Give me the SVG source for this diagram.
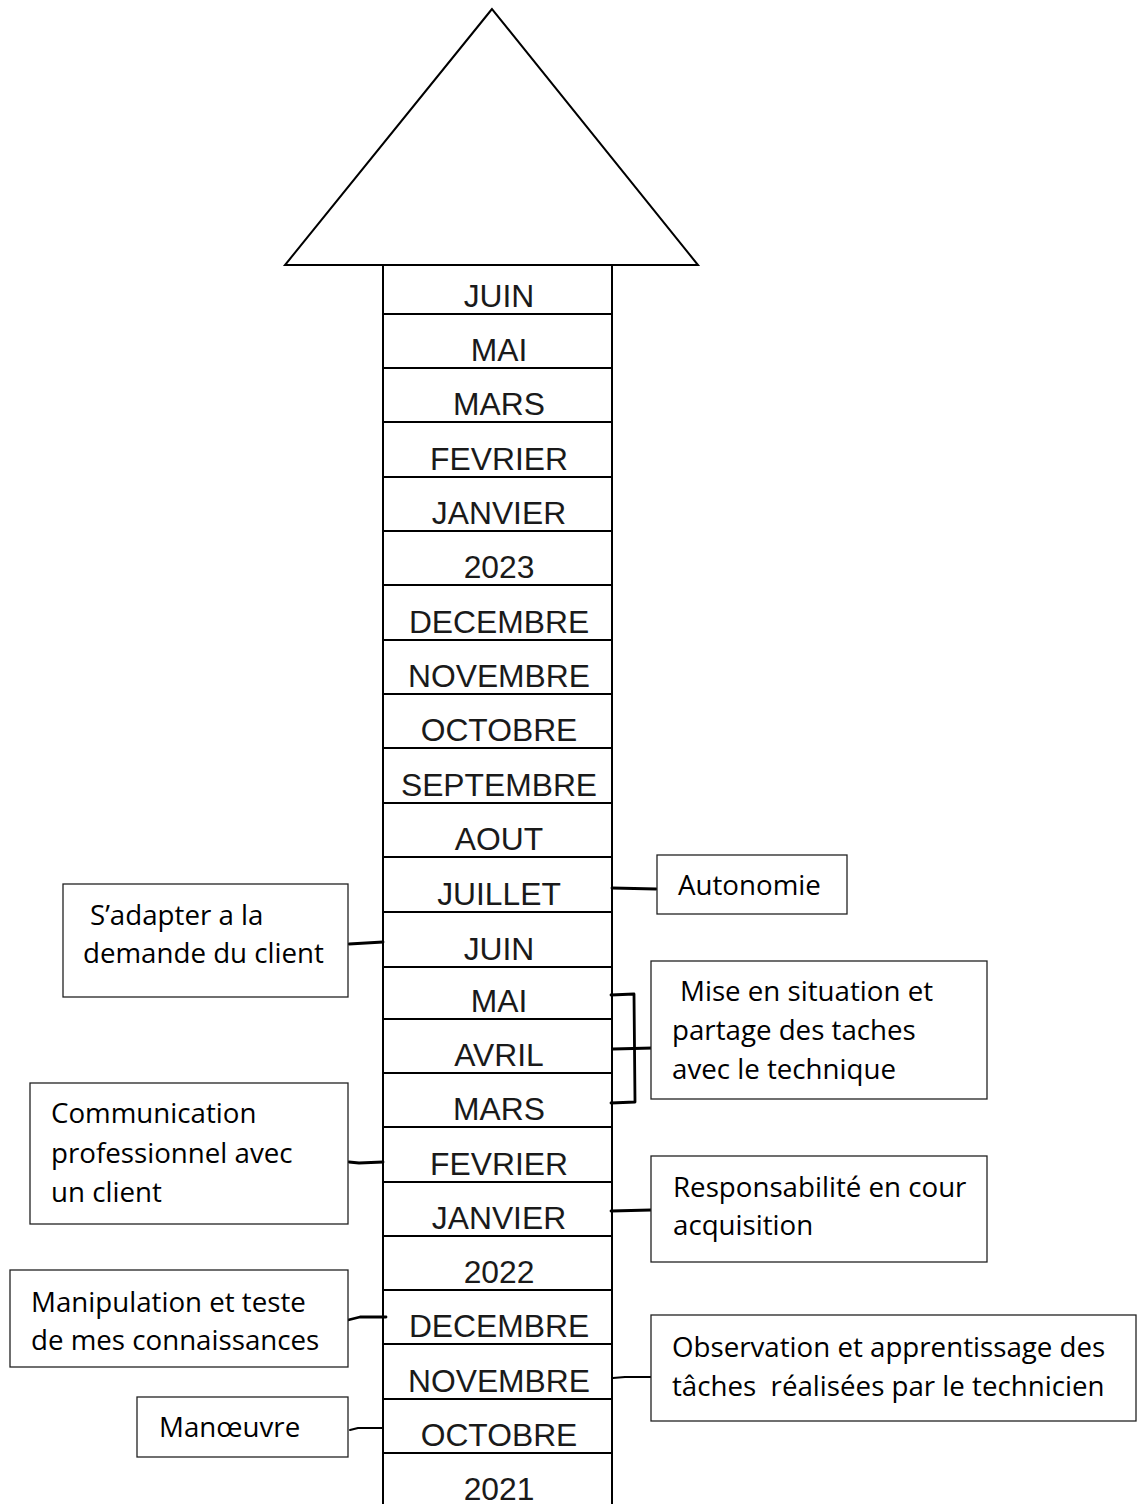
<svg xmlns="http://www.w3.org/2000/svg" width="1138" height="1504" viewBox="0 0 1138 1504">
<style>
.cell{fill:#fff;stroke:#000;stroke-width:2}
.m{font-family:"Liberation Sans",Arial,sans-serif;font-size:31.8px;fill:#1a1a1a;text-anchor:middle}
.box{fill:#fff;stroke:#222;stroke-width:1.3}
.t{font-family:"Open Sans","Noto Sans",sans-serif;font-size:27.7px;fill:#000}
.c{fill:none;stroke:#000;stroke-width:2.8;stroke-linecap:round;stroke-linejoin:round}
</style>
<rect width="1138" height="1504" fill="#fff"/>
<g id="arrow-head">
<polygon points="492,9 285,265 698,265" fill="#fff" stroke="#000" stroke-width="2"/>
</g>
<g id="timeline">
<g id="c01"><rect class="cell" x="383" y="265" width="229" height="49"/><text class="m" x="499" y="307">JUIN</text></g>
<g id="c02"><rect class="cell" x="383" y="314" width="229" height="54"/><text class="m" x="499" y="361">MAI</text></g>
<g id="c03"><rect class="cell" x="383" y="368" width="229" height="54"/><text class="m" x="499" y="415">MARS</text></g>
<g id="c04"><rect class="cell" x="383" y="422" width="229" height="55"/><text class="m" x="499" y="470">FEVRIER</text></g>
<g id="c05"><rect class="cell" x="383" y="477" width="229" height="54"/><text class="m" x="499" y="524">JANVIER</text></g>
<g id="c06"><rect class="cell" x="383" y="531" width="229" height="54"/><text class="m" x="499" y="578">2023</text></g>
<g id="c07"><rect class="cell" x="383" y="585" width="229" height="55"/><text class="m" x="499" y="633">DECEMBRE</text></g>
<g id="c08"><rect class="cell" x="383" y="640" width="229" height="54"/><text class="m" x="499" y="687">NOVEMBRE</text></g>
<g id="c09"><rect class="cell" x="383" y="694" width="229" height="54"/><text class="m" x="499" y="741">OCTOBRE</text></g>
<g id="c10"><rect class="cell" x="383" y="748" width="229" height="55"/><text class="m" x="499" y="796">SEPTEMBRE</text></g>
<g id="c11"><rect class="cell" x="383" y="803" width="229" height="54"/><text class="m" x="499" y="850">AOUT</text></g>
<g id="c12"><rect class="cell" x="383" y="857" width="229" height="55"/><text class="m" x="499" y="905">JUILLET</text></g>
<g id="c13"><rect class="cell" x="383" y="912" width="229" height="55"/><text class="m" x="499" y="960">JUIN</text></g>
<g id="c14"><rect class="cell" x="383" y="967" width="229" height="52"/><text class="m" x="499" y="1012">MAI</text></g>
<g id="c15"><rect class="cell" x="383" y="1019" width="229" height="54"/><text class="m" x="499" y="1066">AVRIL</text></g>
<g id="c16"><rect class="cell" x="383" y="1073" width="229" height="54"/><text class="m" x="499" y="1120">MARS</text></g>
<g id="c17"><rect class="cell" x="383" y="1127" width="229" height="55"/><text class="m" x="499" y="1175">FEVRIER</text></g>
<g id="c18"><rect class="cell" x="383" y="1182" width="229" height="54"/><text class="m" x="499" y="1229">JANVIER</text></g>
<g id="c19"><rect class="cell" x="383" y="1236" width="229" height="54"/><text class="m" x="499" y="1283">2022</text></g>
<g id="c20"><rect class="cell" x="383" y="1290" width="229" height="54"/><text class="m" x="499" y="1337">DECEMBRE</text></g>
<g id="c21"><rect class="cell" x="383" y="1344" width="229" height="55"/><text class="m" x="499" y="1392">NOVEMBRE</text></g>
<g id="c22"><rect class="cell" x="383" y="1399" width="229" height="54"/><text class="m" x="499" y="1446">OCTOBRE</text></g>
<g id="c23"><rect class="cell" x="383" y="1453" width="229" height="60"/><text class="m" x="499" y="1500">2021</text></g>
</g>
<g id="connectors">
<path class="c" d="M612,888 L656,889"/>
<path class="c" d="M349,944 L383,942"/>
<path class="c" d="M611,995 L634,994 L635,1102 L611,1103"/>
<path class="c" d="M613,1049 L653,1048"/>
<path class="c" d="M349,1162 L359,1163 L383,1162"/>
<path class="c" d="M611,1211 L651,1210"/>
<path class="c" d="M348,1320 L360,1317 L386,1317"/>
<path class="c" d="M613,1378 L625,1377 L651,1377" style="stroke-width:2"/>
<path class="c" d="M350,1430 L358,1428 L383,1428" style="stroke-width:2"/>
</g>
<g id="n-adapter"><rect class="box" x="63" y="884" width="285" height="113"/><text class="t"><tspan x="90" y="925">S’adapter a la</tspan><tspan x="83" y="963">demande du client</tspan></text></g>
<g id="n-communication"><rect class="box" x="30" y="1083" width="318" height="141"/><text class="t"><tspan x="51" y="1123">Communication</tspan><tspan x="51" y="1163">professionnel avec</tspan><tspan x="51" y="1202">un client</tspan></text></g>
<g id="n-manipulation"><rect class="box" x="10" y="1270" width="338" height="97"/><text class="t"><tspan x="31" y="1312">Manipulation et teste</tspan><tspan x="31" y="1350">de mes connaissances</tspan></text></g>
<g id="n-manoeuvre"><rect class="box" x="137" y="1397" width="211" height="60"/><text class="t" x="159" y="1437">Manœuvre</text></g>
<g id="n-autonomie"><rect class="box" x="657" y="855" width="190" height="59"/><text class="t" x="678" y="895">Autonomie</text></g>
<g id="n-mise"><rect class="box" x="651" y="961" width="336" height="138"/><text class="t"><tspan x="680" y="1001">Mise en situation et</tspan><tspan x="672" y="1040">partage des taches</tspan><tspan x="672" y="1079">avec le technique</tspan></text></g>
<g id="n-responsabilite"><rect class="box" x="651" y="1156" width="336" height="106"/><text class="t"><tspan x="673" y="1197">Responsabilité en cour</tspan><tspan x="673" y="1235">acquisition</tspan></text></g>
<g id="n-observation"><rect class="box" x="651" y="1315" width="485" height="106"/><text class="t"><tspan x="672" y="1357">Observation et apprentissage des</tspan><tspan x="672" y="1396" xml:space="preserve">tâches  réalisées par le technicien</tspan></text></g>
</svg>
